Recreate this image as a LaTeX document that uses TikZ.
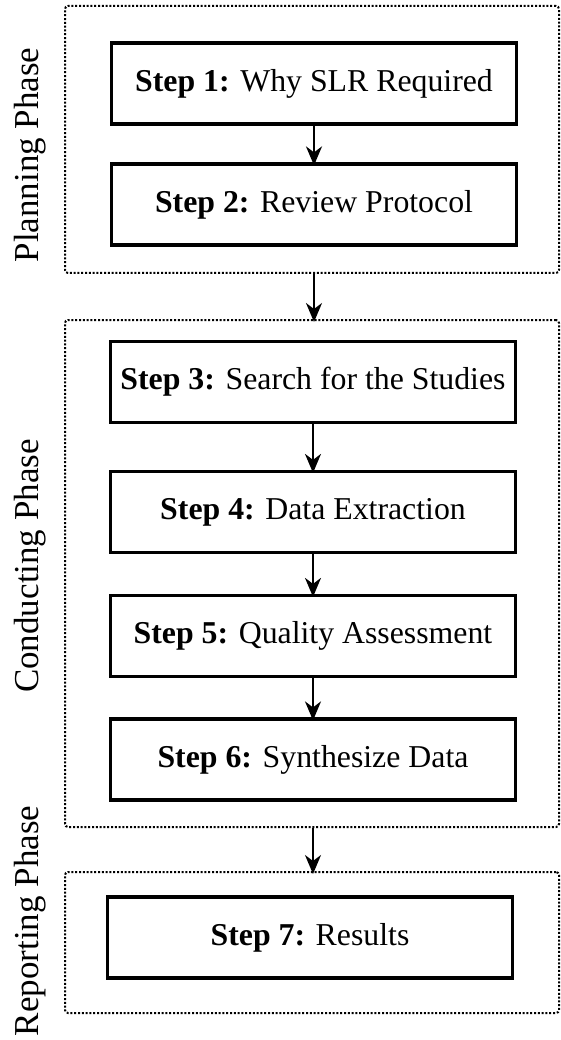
\documentclass[tikz,border=0pt]{standalone}
\usepackage{fontspec}
\setmainfont{Liberation Serif}
\usetikzlibrary{arrows.meta}
\begin{document}
\begin{tikzpicture}[x=1pt,y=-1pt,
  stepbox/.style={draw=black,line width=3.2pt,minimum width=405pt,minimum height=81pt,inner sep=0pt,
    font=\fontsize{31.8}{36}\selectfont},
  phasebox/.style={draw=black,line width=2pt,dash pattern=on 2pt off 1.8pt,rounded corners=3pt,
    minimum width=494pt,inner sep=0pt},
  phaselabel/.style={rotate=90,font=\fontsize{35}{40}\selectfont,inner sep=0pt},
  flow/.style={line width=2pt,-{Stealth[length=19pt,width=16pt,inset=6pt]},shorten >=-3pt}]
\useasboundingbox (0,0) rectangle (561,1040);
% phase containers
\node[phasebox,minimum height=267pt] (plan) at (312,139.5) {};
\node[phasebox,minimum height=507pt] (cond) at (312,573.5) {};
\node[phasebox,minimum height=141pt] (rep) at (312,942.5) {};
% phase labels
\node[phaselabel] (lplan) at (30,155) {Planning Phase};
\node[phaselabel] (lcond) at (30,566) {Conducting Phase};
\node[phaselabel] (lrep) at (30,921) {Reporting Phase};
% steps
\node[stepbox] (s1) at (314,83.5) {\textbf{Step 1:} Why SLR Required};
\node[stepbox] (s2) at (314,204.5) {\textbf{Step 2:} Review Protocol};
\node[stepbox] (s3) at (313,382) {\textbf{Step 3:} Search for the Studies};
\node[stepbox] (s4) at (313,512) {\textbf{Step 4:} Data Extraction};
\node[stepbox] (s5) at (313,636) {\textbf{Step 5:} Quality Assessment};
\node[stepbox] (s6) at (313,759.5) {\textbf{Step 6:} Synthesize Data};
\node[stepbox] (s7) at (310,937.5) {\textbf{Step 7:} Results};
% connectors
\draw[flow] (s1.south) -- (s2.north);
\draw[flow] (plan.south -| s1.south) -- (cond.north -| s1.south);
\draw[flow] (s3.south) -- (s4.north);
\draw[flow] (s4.south) -- (s5.north);
\draw[flow] (s5.south) -- (s6.north);
\draw[flow] (cond.south -| s6.south) -- (rep.north -| s6.south);
\end{tikzpicture}
\end{document}
